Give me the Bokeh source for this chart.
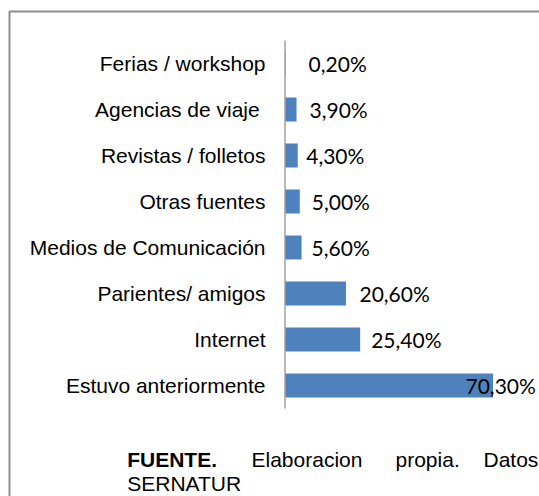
from bokeh.plotting import figure
from bokeh.models import Range1d, ColumnDataSource, Label
from bokeh.core.properties import value
from bokeh.embed import file_html
from bokeh.resources import INLINE

# ---- data (bottom to top) ----
categories = ["Estuvo anteriormente", "Internet", "Parientes/ amigos",
              "Medios de Comunicación", "Otras fuentes", "Revistas / folletos",
              "Agencias de viaje ", "Ferias / workshop"]
values = [70.3, 25.4, 20.6, 5.6, 5.0, 4.3, 3.9, 0.2]
value_labels = ["70,30%", "25,40%", "20,60%", "5,60%", "5,00%", "4,30%", "3,90%", "0,20%"]
footnote_bold = "FUENTE."
footnote_words = ["Elaboracion", "propia.", "Datos"]
footnote_line2 = "SERNATUR"

# ---- style / layout ----
label_nudge = [-27.5, 11, 13.5, 10, 12, 8.5, 13, 23]   # px offset of value labels
W, H = 539, 496
px_per_unit = 208 / 70.3
zero_px = 284.5
row_px = 46.0
first_row_px = 385.0        # pixel centre of the bottom row
BAR = "#4F81BD"


def px2x(px):
    return (px - zero_px) / px_per_unit


def py2y(py):
    return (first_row_px - py) / row_px


p = figure(width=W, height=H, output_backend="svg", toolbar_location=None,
           x_range=Range1d(px2x(0), px2x(W)),
           y_range=Range1d(py2y(H), py2y(0)),
           min_border=0, x_axis_type=None, y_axis_type=None)
p.outline_line_color = None
p.background_fill_color = "white"
p.border_fill_color = "white"

ypos = list(range(len(categories)))
src = ColumnDataSource(dict(y=ypos, v=values, cat=categories, lab=value_labels, dx=label_nudge))

p.hbar(y="y", left=0, right="v", height=0.52, fill_color=BAR, line_color=None, source=src)
p.segment(x0=[0], y0=[-0.5], x1=[0], y1=[len(categories) - 0.5],
          line_color="#a0a0a0", line_width=1.5)

p.text(x=0, y="y", text="cat", x_offset=-19.5, text_align="right", text_baseline="middle",
       text_font=value("Liberation Sans"), text_font_size="21px", text_color="black", source=src)
p.text(x="v", y="y", text="lab", x_offset="dx", text_align="left", text_baseline="middle",
       text_font=value("Lato"), text_font_size="21px", text_color="black", source=src)

# outer frame line (runs off the right and bottom edges)
p.line(x=[px2x(W + 10), px2x(9), px2x(9)], y=[py2y(11), py2y(11), py2y(H + 10)],
       line_color="#8c8c8c", line_width=2)

# footnote (justified first line)
line1_y = H - 459.3
line2_y = H - 483.3
p.add_layout(Label(x=126.7, y=line1_y, x_units="screen", y_units="screen", text=footnote_bold,
                   text_font="Liberation Sans", text_font_style="bold", text_font_size="21px",
                   text_baseline="alphabetic", text_color="black"))
for wx, w in zip([251, 395, 483], footnote_words):
    p.add_layout(Label(x=wx, y=line1_y, x_units="screen", y_units="screen", text=w,
                       text_font="Liberation Sans", text_font_size="21px",
                       text_baseline="alphabetic", text_color="black"))
p.add_layout(Label(x=126.7, y=line2_y, x_units="screen", y_units="screen", text=footnote_line2,
                   text_font="Liberation Sans", text_font_size="21px",
                   text_baseline="alphabetic", text_color="black"))

open("out.html", "w").write(file_html(p, INLINE))
